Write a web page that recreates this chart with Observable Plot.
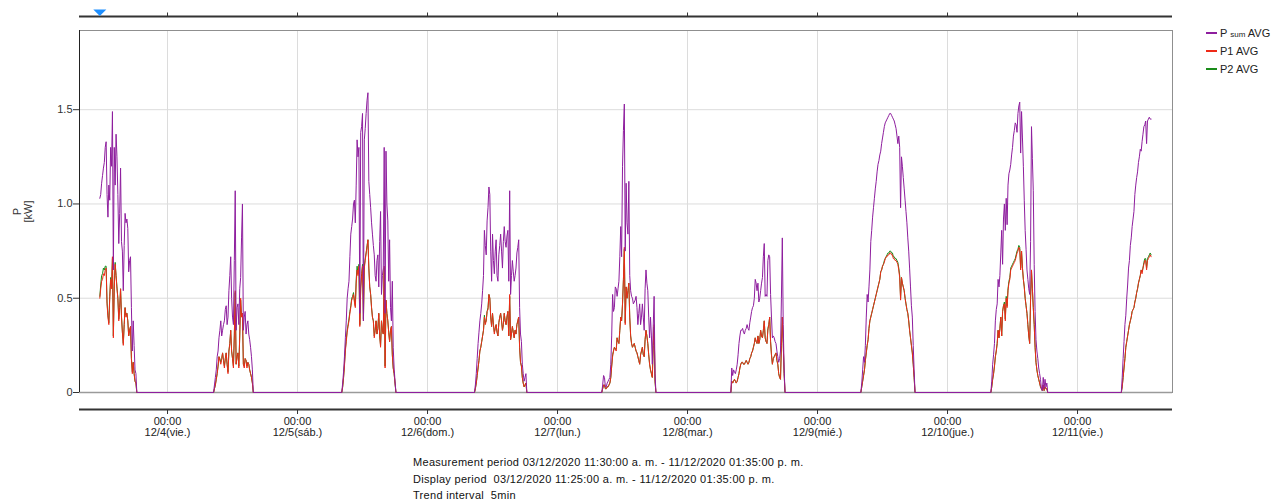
<!DOCTYPE html>
<html>
<head>
<meta charset="utf-8">
<script src="https://cdn.jsdelivr.net/npm/d3@7"></script>
<script src="https://cdn.jsdelivr.net/npm/@observablehq/plot@0.6"></script>
<style>
  body { margin: 0; background: #fff; font-family: "Liberation Sans", Arial, sans-serif; }
  #wrap { position: relative; width: 1281px; height: 504px; overflow: hidden; }
  #main, #topbar { position: absolute; left: 0; top: 0; }
  #legend { position: absolute; left: 1206px; top: 24px; font-size: 11px; color: #222; }
  .row { height: 18px; display: flex; align-items: center; white-space: nowrap; }
  .sw { width: 11px; height: 2px; margin-right: 3px; }
  .small { font-size: 8px; }
  #caption { position: absolute; left: 413px; top: 454px; font-size: 11px; letter-spacing: 0.3px; line-height: 16.5px; color: #111; white-space: pre; }
</style>
</head>
<body>
<div id="wrap">
  <div id="main"></div>
  <div id="topbar"></div>
  <div id="legend"></div>
  <div id="caption"></div>
</div>
<script>
// ---------- data ----------
const stepMinutes = 10;
// first sample of each day's active period (UTC used as plain local clock)
const dayStarts = ["2020-12-03T11:30", "2020-12-04T08:30", "2020-12-05T08:10", "2020-12-06T08:40",
  "2020-12-07T08:10", "2020-12-08T08:00", "2020-12-09T08:00", "2020-12-10T08:00", "2020-12-11T08:05"];

const psumByDay = [
  [1.03,1.05,1.11,1.15,1.19,1.22,1.30,1.33,1.05,0.93,1.10,1.02,1.30,1.20,1.49,0.65,1.30,1.10,1.37,1.25,1.05,0.79,0.95,1.19,0.80,0.75,0.54,0.78,0.95,0.90,0.92,0.87,0.64,0.70,0.72,0.45,0.22,0.38,0.25,0.12,0.10,0],
  [0,0.04,0.08,0.12,0.19,0.22,0.29,0.33,0.38,0.30,0.33,0.36,0.38,0.44,0.46,0.36,0.40,0.54,0.62,0.72,0.50,0.40,0.36,0.70,1.07,0.33,0.45,0.47,0.36,0.55,0.61,0.82,1.00,0.33,0.40,0.43,0.31,0.36,0.38,0.31,0.28,0.24,0.19,0.12,0],
  [0,0.05,0.11,0.19,0.29,0.38,0.50,0.55,0.59,0.72,0.84,0.88,0.92,1.00,1.02,0.90,1.10,1.34,1.25,1.30,0.42,1.38,1.41,1.48,0.38,1.34,1.40,1.48,1.55,1.59,1.12,1.05,0.98,0.90,0.84,0.78,0.73,0.62,0.59,0.70,0.73,0.56,0.80,0.96,0.52,0.62,0.66,1.30,0.42,1.28,1.00,0.91,0.59,0.81,0.45,0.38,0.59,0.24,0.13,0.06,0],
  [0,0.04,0.10,0.18,0.26,0.32,0.38,0.42,0.47,0.54,0.62,0.86,0.78,0.73,0.91,0.98,1.09,1.05,0.75,0.59,0.84,0.70,0.63,0.75,0.81,0.62,0.59,0.73,0.78,0.84,0.75,0.66,0.80,0.88,0.80,0.77,0.83,0.86,0.59,1.07,0.52,0.62,0.70,0.64,0.59,0.62,0.66,0.74,0.77,0.81,0.45,0.31,0.27,0.15,0.10,0.06,0.08,0.10,0],
  [0,0.04,0.09,0.08,0.03,0.03,0.05,0.06,0.07,0.08,0.15,0.30,0.52,0.43,0.45,0.56,0.55,0.51,0.55,0.59,0.72,0.88,0.72,1.20,1.39,1.53,0.75,1.11,0.90,0.84,1.12,0.62,0.54,0.51,0.50,0.47,0.48,0.49,0.51,0.45,0.36,0.42,0.47,0.36,0.40,0.47,0.40,0.33,0.55,0.65,0.58,0.54,0.40,0.29,0.40,0.30,0.15,0.35,0.51,0.10,0],
  [0,0.13,0.09,0.12,0.11,0.10,0.12,0.15,0.20,0.26,0.30,0.33,0.33,0.34,0.32,0.31,0.33,0.34,0.36,0.34,0.33,0.37,0.40,0.43,0.45,0.46,0.50,0.60,0.58,0.54,0.58,0.48,0.50,0.54,0.58,0.61,0.72,0.79,0.51,0.52,0.51,0.70,0.73,0.72,0.52,0.40,0.29,0.30,0.29,0.27,0.26,0.22,0.19,0.16,0.18,0.22,0.50,0.82,0.36,0.13,0],
  [0,0.05,0.12,0.19,0.16,0.25,0.40,0.52,0.48,0.56,0.65,0.80,0.86,0.93,0.98,1.03,1.08,1.12,1.17,1.21,1.23,1.26,1.28,1.32,1.35,1.38,1.41,1.43,1.44,1.45,1.46,1.47,1.48,1.48,1.47,1.46,1.45,1.44,1.42,1.40,1.36,1.32,1.36,1.30,0.98,1.25,1.20,1.14,1.08,1.02,0.96,0.90,0.82,0.75,0.66,0.56,0.46,0.40,0.25,0.12,0],
  [0,0.06,0.15,0.20,0.26,0.38,0.44,0.47,0.60,0.56,0.62,0.74,0.86,0.68,0.92,1.00,0.86,1.03,0.89,1.10,1.16,1.18,1.21,1.26,1.30,1.36,1.39,1.43,1.42,1.38,1.48,1.52,1.54,1.27,1.49,1.35,1.20,1.02,0.86,0.76,0.65,0.60,0.55,0.52,0.80,1.41,1.24,1.07,0.68,0.43,0.28,0.22,0.18,0.13,0.10,0.07,0.02,0.01,0.08,0.02,0.07,0.03,0.05,0],
  [0,0.08,0.18,0.27,0.36,0.41,0.50,0.57,0.66,0.70,0.78,0.82,0.88,0.92,0.96,1.05,1.10,1.14,1.17,1.22,1.25,1.29,1.28,1.33,1.37,1.41,1.42,1.44,1.32,1.44,1.45,1.46,1.45,1.45]
];

const p1ByDay = [
  [0.50,0.55,0.59,0.60,0.63,0.62,0.65,0.66,0.47,0.40,0.36,0.50,0.60,0.55,0.72,0.29,0.55,0.68,0.62,0.55,0.50,0.38,0.45,0.55,0.40,0.32,0.25,0.36,0.45,0.40,0.42,0.38,0.30,0.33,0.35,0.18,0.10,0.16,0.10,0.06,0.05,0],
  [0,0.02,0.04,0.07,0.10,0.14,0.19,0.17,0.15,0.18,0.21,0.17,0.13,0.18,0.21,0.15,0.10,0.22,0.26,0.33,0.22,0.18,0.13,0.30,0.54,0.15,0.19,0.21,0.13,0.30,0.50,0.40,0.42,0.15,0.13,0.18,0.17,0.13,0.16,0.15,0.12,0.10,0.08,0.05,0],
  [0,0.03,0.08,0.14,0.22,0.27,0.32,0.35,0.38,0.42,0.45,0.49,0.50,0.52,0.48,0.45,0.58,0.65,0.62,0.67,0.35,0.55,0.62,0.67,0.38,0.66,0.70,0.74,0.77,0.81,0.66,0.56,0.52,0.45,0.40,0.38,0.29,0.33,0.38,0.31,0.34,0.42,0.30,0.24,0.38,0.33,0.31,0.67,0.13,0.49,0.42,0.38,0.32,0.27,0.33,0.35,0.20,0.13,0.10,0.05,0],
  [0,0.02,0.05,0.09,0.13,0.17,0.22,0.24,0.27,0.30,0.33,0.40,0.36,0.38,0.43,0.44,0.52,0.50,0.40,0.35,0.42,0.36,0.31,0.34,0.36,0.32,0.30,0.37,0.40,0.42,0.38,0.33,0.36,0.42,0.38,0.36,0.40,0.43,0.30,0.52,0.28,0.31,0.35,0.32,0.29,0.33,0.31,0.36,0.38,0.40,0.24,0.16,0.14,0.08,0.05,0.03,0.04,0.05,0],
  [0,0.02,0.04,0.04,0.02,0.02,0.03,0.03,0.04,0.05,0.08,0.14,0.19,0.22,0.24,0.23,0.22,0.29,0.27,0.26,0.33,0.40,0.38,0.47,0.60,0.77,0.36,0.56,0.50,0.54,0.58,0.40,0.30,0.26,0.24,0.25,0.26,0.24,0.22,0.21,0.19,0.17,0.15,0.20,0.22,0.24,0.20,0.19,0.28,0.33,0.30,0.26,0.20,0.15,0.12,0.10,0.08,0.25,0.36,0.06,0],
  [0,0.06,0.05,0.06,0.07,0.06,0.05,0.06,0.08,0.10,0.13,0.15,0.16,0.16,0.15,0.15,0.16,0.17,0.16,0.15,0.16,0.18,0.19,0.21,0.22,0.24,0.26,0.29,0.27,0.26,0.30,0.26,0.28,0.33,0.30,0.29,0.33,0.38,0.29,0.27,0.26,0.33,0.36,0.40,0.27,0.20,0.15,0.18,0.19,0.20,0.21,0.17,0.15,0.10,0.08,0.07,0.25,0.40,0.26,0.10,0],
  [0,0.03,0.06,0.09,0.12,0.17,0.21,0.25,0.28,0.34,0.38,0.40,0.42,0.44,0.46,0.48,0.50,0.52,0.54,0.56,0.58,0.60,0.64,0.65,0.67,0.68,0.69,0.71,0.72,0.72,0.73,0.73,0.74,0.74,0.73,0.73,0.71,0.71,0.70,0.70,0.69,0.68,0.65,0.61,0.49,0.61,0.58,0.56,0.54,0.50,0.47,0.44,0.42,0.38,0.33,0.29,0.25,0.21,0.15,0.08,0],
  [0,0.03,0.07,0.10,0.14,0.19,0.22,0.26,0.33,0.29,0.34,0.40,0.30,0.43,0.46,0.47,0.38,0.50,0.45,0.54,0.58,0.60,0.65,0.66,0.67,0.68,0.69,0.70,0.72,0.74,0.75,0.77,0.76,0.65,0.75,0.66,0.60,0.56,0.50,0.46,0.42,0.36,0.30,0.26,0.50,0.65,0.55,0.45,0.36,0.24,0.16,0.12,0.09,0.07,0.05,0.03,0.02,0.01,0.04,0.01,0.03,0.02,0.02,0],
  [0,0.03,0.08,0.13,0.18,0.24,0.27,0.30,0.33,0.36,0.38,0.40,0.43,0.44,0.45,0.48,0.50,0.53,0.55,0.58,0.60,0.62,0.65,0.63,0.66,0.68,0.70,0.70,0.65,0.70,0.71,0.72,0.73,0.72]
];

const p2ByDay = [
  [0.51,0.57,0.62,0.63,0.66,0.65,0.67,0.67,0.48,0.41,0.37,0.51,0.61,0.56,0.71,0.30,0.56,0.69,0.62,0.56,0.50,0.39,0.45,0.55,0.41,0.32,0.26,0.36,0.45,0.41,0.42,0.38,0.30,0.33,0.35,0.18,0.11,0.16,0.10,0.06,0.05,0],
  [0,0.02,0.04,0.07,0.10,0.14,0.19,0.18,0.16,0.18,0.21,0.17,0.14,0.18,0.21,0.15,0.11,0.22,0.26,0.33,0.22,0.18,0.14,0.30,0.53,0.15,0.19,0.21,0.14,0.30,0.49,0.40,0.42,0.15,0.14,0.18,0.17,0.14,0.16,0.15,0.12,0.10,0.08,0.05,0],
  [0,0.03,0.08,0.15,0.23,0.28,0.33,0.36,0.39,0.43,0.46,0.50,0.51,0.53,0.49,0.46,0.60,0.67,0.63,0.68,0.36,0.56,0.63,0.68,0.39,0.67,0.71,0.74,0.78,0.81,0.66,0.56,0.52,0.45,0.40,0.38,0.30,0.33,0.38,0.31,0.34,0.42,0.30,0.25,0.38,0.33,0.31,0.66,0.14,0.49,0.42,0.38,0.32,0.27,0.33,0.35,0.20,0.13,0.10,0.05,0],
  [0,0.02,0.05,0.09,0.13,0.17,0.22,0.24,0.27,0.30,0.33,0.41,0.37,0.38,0.43,0.45,0.52,0.50,0.40,0.35,0.42,0.36,0.32,0.34,0.36,0.32,0.30,0.37,0.40,0.42,0.38,0.33,0.36,0.42,0.38,0.36,0.40,0.43,0.30,0.51,0.28,0.31,0.35,0.32,0.29,0.33,0.31,0.36,0.38,0.40,0.24,0.16,0.14,0.08,0.05,0.03,0.04,0.05,0],
  [0,0.02,0.04,0.04,0.02,0.02,0.03,0.03,0.04,0.05,0.08,0.14,0.20,0.22,0.24,0.23,0.23,0.29,0.27,0.26,0.33,0.40,0.38,0.47,0.60,0.76,0.37,0.56,0.50,0.54,0.58,0.40,0.30,0.26,0.24,0.25,0.26,0.24,0.22,0.21,0.19,0.17,0.15,0.20,0.22,0.24,0.20,0.19,0.28,0.33,0.30,0.26,0.20,0.15,0.12,0.10,0.08,0.25,0.35,0.06,0],
  [0,0.06,0.05,0.06,0.07,0.06,0.05,0.06,0.08,0.10,0.13,0.15,0.16,0.16,0.15,0.15,0.16,0.17,0.16,0.15,0.16,0.18,0.19,0.21,0.22,0.24,0.26,0.29,0.27,0.26,0.30,0.26,0.28,0.33,0.30,0.29,0.33,0.38,0.29,0.27,0.26,0.34,0.36,0.40,0.27,0.20,0.15,0.18,0.19,0.20,0.21,0.17,0.15,0.10,0.08,0.07,0.25,0.40,0.26,0.10,0],
  [0,0.03,0.06,0.09,0.12,0.17,0.21,0.25,0.28,0.34,0.38,0.40,0.42,0.44,0.46,0.48,0.50,0.52,0.54,0.56,0.58,0.60,0.64,0.65,0.67,0.68,0.70,0.71,0.72,0.73,0.74,0.74,0.75,0.75,0.74,0.74,0.72,0.72,0.71,0.71,0.70,0.69,0.66,0.62,0.50,0.61,0.58,0.56,0.54,0.50,0.47,0.44,0.42,0.38,0.33,0.29,0.25,0.21,0.15,0.08,0],
  [0,0.03,0.07,0.10,0.14,0.19,0.22,0.26,0.33,0.29,0.34,0.40,0.30,0.43,0.46,0.48,0.39,0.51,0.46,0.55,0.59,0.61,0.66,0.67,0.68,0.69,0.70,0.71,0.73,0.75,0.76,0.78,0.77,0.66,0.75,0.66,0.60,0.56,0.50,0.46,0.42,0.36,0.30,0.26,0.50,0.65,0.55,0.45,0.36,0.24,0.16,0.12,0.09,0.07,0.05,0.03,0.02,0.01,0.04,0.01,0.03,0.02,0.02,0],
  [0,0.03,0.08,0.13,0.18,0.24,0.27,0.30,0.33,0.36,0.38,0.40,0.43,0.44,0.45,0.48,0.50,0.53,0.55,0.58,0.60,0.62,0.65,0.64,0.66,0.69,0.71,0.71,0.66,0.71,0.72,0.73,0.74,0.73]
];

const seriesNames = ["P sum AVG", "P1 AVG", "P2 AVG"];
const seriesColors = ["#8e1e9e", "#ee2a18", "#1a8c1a"];
const dayTicks = ["2020-12-04T00:00", "2020-12-05T00:00", "2020-12-06T00:00", "2020-12-07T00:00",
  "2020-12-08T00:00", "2020-12-09T00:00", "2020-12-10T00:00", "2020-12-11T00:00"];
const dayTickLabels = ["12/4(vie.)", "12/5(sáb.)", "12/6(dom.)", "12/7(lun.)", "12/8(mar.)", "12/9(mié.)", "12/10(jue.)", "12/11(vie.)"];
const yTicks = [0, 0.5, 1.0, 1.5];
const xDomain = ["2020-12-03T07:45", "2020-12-11T17:32"];
const yDomain = [0, 1.92];
const markerTime = "2020-12-03T11:30";
const yLabel = "P\n[kW]";
const captionLines = [
  "Measurement period 03/12/2020 11:30:00 a. m. - 11/12/2020 01:35:00 p. m.",
  "Display period  03/12/2020 11:25:00 a. m. - 11/12/2020 01:35:00 p. m.",
  "Trend interval  5min"
];

// ---------- build ----------
const parseT = s => new Date(s + ":00Z");
function rowsFor(byDay, name) {
  const out = [];
  byDay.forEach((vals, d) => {
    const t0 = parseT(dayStarts[d]).getTime();
    vals.forEach((v, i) => out.push({series: name, t: new Date(t0 + i * stepMinutes * 60000), v}));
  });
  return out;
}
const psumRows = rowsFor(psumByDay, seriesNames[0]);
const p1Rows = rowsFor(p1ByDay, seriesNames[1]);
const p2Rows = rowsFor(p2ByDay, seriesNames[2]);
const tickDates = dayTicks.map(parseT);
const xDom = xDomain.map(parseT);
const labelOf = d => dayTickLabels[tickDates.findIndex(t => +t === +d)];

const font = "Liberation Sans, Arial, sans-serif";

const main = Plot.plot({
  width: 1281, height: 445,
  marginLeft: 79, marginRight: 109, marginTop: 30, marginBottom: 53,
  style: {fontFamily: font, fontSize: "11px", color: "#333", background: "transparent", overflow: "visible"},
  x: {type: "utc", domain: xDom, label: null},
  y: {domain: yDomain, label: null},
  marks: [
    Plot.gridX(tickDates, {stroke: "#dcdcdc", strokeOpacity: 1}),
    Plot.gridY(yTicks.slice(1), {stroke: "#dcdcdc", strokeOpacity: 1}),
    Plot.frame({stroke: "#8f8f8f"}),
    Plot.ruleY([0], {stroke: "#9a9a9a", strokeWidth: 1.5}),
    Plot.ruleX([xDom[0]], {stroke: "#222"}),
    Plot.axisY(yTicks, {tickSize: 6, tickPadding: 1, label: null, stroke: "#333", fill: "#333",
      tickFormat: d => d === 0 ? "0" : d.toFixed(1)}),
    Plot.ruleY([0], {dy: 17, stroke: "#333", strokeWidth: 2}),
    Plot.axisX(tickDates, {anchor: "bottom", tickSize: 4, tickPadding: 3, dy: 18, label: null, stroke: "#333", fill: "#222",
      tickFormat: d => "00:00\n" + labelOf(d)}),
    Plot.line(p2Rows, {x: "t", y: "v", stroke: seriesColors[2], strokeWidth: 1}),
    Plot.line(p1Rows, {x: "t", y: "v", stroke: seriesColors[1], strokeWidth: 1}),
    Plot.line(psumRows, {x: "t", y: "v", stroke: seriesColors[0], strokeWidth: 1}),
    Plot.text([yLabel], {text: d => d, frameAnchor: "left", dx: -57, rotate: -90, textAnchor: "middle", lineAnchor: "middle", fill: "#333", fontSize: 11})
  ]
});
document.getElementById("main").appendChild(main);

const flatTriangle = {draw(ctx) { ctx.moveTo(-6.5, -3); ctx.lineTo(6.5, -3); ctx.lineTo(0, 3.5); ctx.closePath(); }};
const topbar = Plot.plot({
  width: 1281, height: 30,
  marginLeft: 79, marginRight: 109, marginTop: 0, marginBottom: 0,
  style: {background: "transparent", overflow: "visible"},
  x: {type: "utc", domain: xDom, axis: null},
  y: {domain: [0, 1], range: [16, 6], axis: null},
  marks: [
    Plot.ruleY([0], {stroke: "#333", strokeWidth: 2}),
    Plot.ruleX(tickDates, {x: d => d, y1: 0, y2: 0.35, stroke: "#333"}),
    Plot.dot([parseT(markerTime)], {x: d => d, y: 0.4, symbol: flatTriangle, r: 5, fill: "#1e8fff", stroke: "none"})
  ]
});
document.getElementById("topbar").appendChild(topbar);

// legend
const legend = document.getElementById("legend");
seriesNames.forEach((name, i) => {
  const row = document.createElement("div");
  row.className = "row";
  const sw = document.createElement("span");
  sw.className = "sw";
  sw.style.background = seriesColors[i];
  row.appendChild(sw);
  const lab = document.createElement("span");
  if (name.includes(" sum ")) {
    const [a, b] = name.split(" sum ");
    lab.innerHTML = a + " <span class='small'>sum</span> " + b;
  } else lab.textContent = name;
  row.appendChild(lab);
  legend.appendChild(row);
});

// caption
document.getElementById("caption").textContent = captionLines.join("\n");
</script>
</body>
</html>
